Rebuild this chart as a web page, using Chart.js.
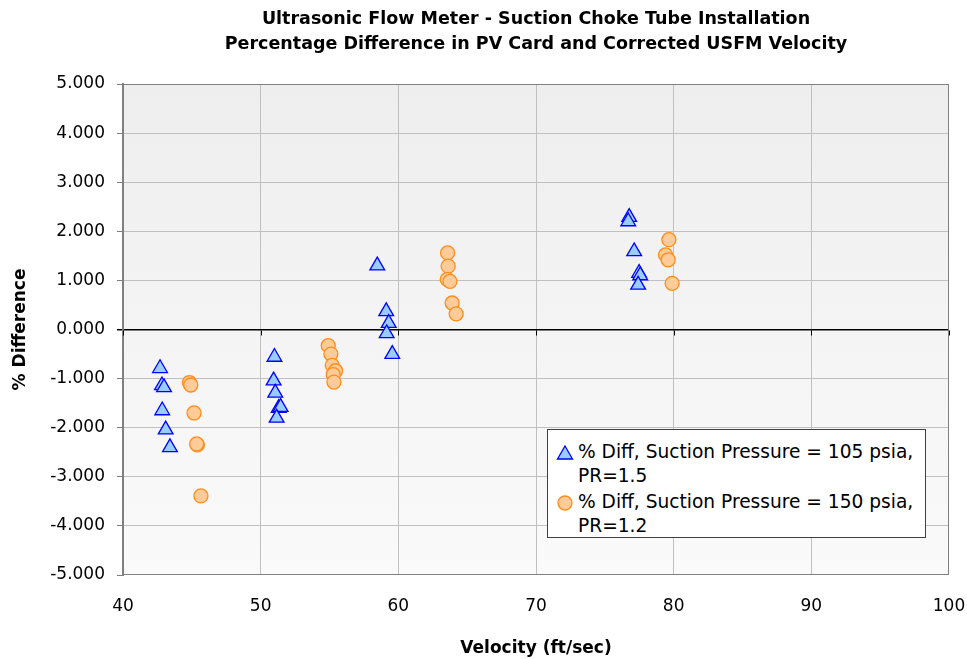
<!DOCTYPE html>
<html>
<head>
<meta charset="utf-8">
<title>Ultrasonic Flow Meter - Suction Choke Tube Installation</title>
<script src="https://cdn.jsdelivr.net/npm/chart.js@4.4.1/dist/chart.umd.min.js"></script>
<style>
  html, body { margin: 0; padding: 0; background: #fff; }
  .wrap { position: relative; width: 967px; height: 659px; }
  .legend {
    position: absolute; left: 547px; top: 429px; width: 379px; height: 109px;
    background: #fff; border: 1px solid #404040; box-sizing: border-box;
    font: 18.6px "DejaVu Sans", Arial, sans-serif; color: #000;
    padding: 10px 0 0 8px;
  }
  .legend .item { display: flex; align-items: flex-start; line-height: 24px; margin-bottom: 2px; }
  .legend svg { flex: none; margin: 5px 4px 0 0; }
</style>
</head>
<body>
<div class="wrap">
  <canvas id="diffChart" width="967" height="659"></canvas>
  <div class="legend">
    <div class="item">
      <svg width="18" height="16"><polygon points="9,1 16.5,14 1.5,14" fill="#99ccff" stroke="#0000ff" stroke-width="1.3"/></svg>
      <span>% Diff, Suction Pressure = 105 psia,<br>PR=1.5</span>
    </div>
    <div class="item">
      <svg width="18" height="16"><circle cx="9" cy="8" r="7" fill="#ffcc99" stroke="#ff8c1a" stroke-width="1.3"/></svg>
      <span>% Diff, Suction Pressure = 150 psia,<br>PR=1.2</span>
    </div>
  </div>
</div>
<script>
const titleLines = [
  "Ultrasonic Flow Meter - Suction Choke Tube Installation",
  "Percentage Difference in PV Card and Corrected USFM Velocity"
];

// 105 psia, PR=1.5
const velocity105 = [42.69, 42.83, 42.98, 42.85, 43.10, 43.41,
  51.00, 50.94, 51.06, 51.31, 51.45, 51.16,
  58.47, 59.12, 59.30, 59.15, 59.56,
  76.77, 76.70, 77.13, 77.49, 77.57, 77.42];
const diff105 = [-0.79, -1.14, -1.18, -1.65, -2.04, -2.40,
  -0.56, -1.04, -1.29, -1.60, -1.58, -1.80,
  1.30, 0.37, 0.13, -0.08, -0.50,
  2.29, 2.20, 1.59, 1.15, 1.10, 0.91];

// 150 psia, PR=1.2
const velocity150 = [44.82, 44.92, 45.16, 45.40, 45.35, 45.66,
  54.91, 55.10, 55.20, 55.44, 55.27, 55.32,
  63.58, 63.62, 63.55, 63.75, 63.91, 64.20,
  79.65, 79.41, 79.60, 79.89];
const diff150 = [-1.08, -1.13, -1.70, -2.35, -2.33, -3.39,
  -0.33, -0.50, -0.73, -0.84, -0.92, -1.07,
  1.56, 1.29, 1.02, 0.98, 0.54, 0.32,
  1.83, 1.52, 1.42, 0.94];

const xTicks = [40, 50, 60, 70, 80, 90, 100];
const yTicks = [-5, -4, -3, -2, -1, 0, 1, 2, 3, 4, 5];

const fontFamily = '"DejaVu Sans", Arial, sans-serif';

function toPoints(xs, ys) {
  return xs.map((x, i) => ({ x: x, y: ys[i] }));
}

const plotFrame = {
  id: "plotFrame",
  beforeDraw(chart) {
    const { ctx, chartArea: a } = chart;
    const grad = ctx.createLinearGradient(0, a.top, 0, a.bottom);
    grad.addColorStop(0, "#eeeeee");
    grad.addColorStop(1, "#fafafa");
    ctx.save();
    ctx.fillStyle = grad;
    ctx.fillRect(a.left, a.top, a.right - a.left, a.bottom - a.top);
    ctx.restore();
  },
  beforeDatasetsDraw(chart) {
    const { ctx, chartArea: a, scales } = chart;
    const y0 = Math.round(scales.y.getPixelForValue(0)) + 0.5;
    ctx.save();
    ctx.strokeStyle = "#808080";
    ctx.lineWidth = 1;
    ctx.strokeRect(a.left + 0.5, a.top + 0.5, a.right - a.left - 1, a.bottom - a.top - 1);
    ctx.strokeStyle = "#000";
    ctx.beginPath();
    xTicks.forEach((v) => {
      const px = Math.round(scales.x.getPixelForValue(v)) + 0.5;
      ctx.moveTo(px, y0);
      ctx.lineTo(px, y0 + 5);
    });
    ctx.stroke();
    ctx.restore();
  }
};

const titlePlugin = {
  id: "twoLineTitle",
  afterDraw(chart) {
    const { ctx, chartArea: a } = chart;
    const cx = (a.left + a.right) / 2;
    ctx.save();
    ctx.font = "bold 17.5px " + fontFamily;
    ctx.fillStyle = "#000";
    ctx.textAlign = "center";
    ctx.textBaseline = "middle";
    ctx.fillText(titleLines[0], cx, 19);
    ctx.fillText(titleLines[1], cx, 44);
    ctx.restore();
  }
};

const triangleSet = {
  label: "% Diff, Suction Pressure = 105 psia, PR=1.5",
  data: toPoints(velocity105, diff105),
  pointStyle: "triangle",
  pointRadius: 8.5,
  pointHoverRadius: 8.5,
  backgroundColor: "#99ccff",
  borderColor: "#0000ff",
  pointBorderWidth: 1.3,
  showLine: false
};

const circleSet = {
  label: "% Diff, Suction Pressure = 150 psia, PR=1.2",
  data: toPoints(velocity150, diff150),
  pointStyle: "circle",
  pointRadius: 7,
  pointHoverRadius: 7,
  backgroundColor: "#ffcc99",
  borderColor: "#ff8c1a",
  pointBorderWidth: 1.3,
  showLine: false
};

new Chart(document.getElementById("diffChart"), {
  type: "scatter",
  data: { datasets: [triangleSet, circleSet] },
  plugins: [plotFrame, titlePlugin],
  options: {
    responsive: false,
    animation: false,
    layout: { padding: { top: 84, right: 18, bottom: 0, left: 0 } },
    plugins: {
      legend: { display: false },
      tooltip: { enabled: false },
      title: { display: false }
    },
    scales: {
      x: {
        type: "linear",
        min: 40,
        max: 100,
        afterBuildTicks(scale) { scale.ticks = xTicks.map((v) => ({ value: v })); },
        afterFit(scale) {
          scale.height = 84;
          scale.paddingRight = 0;
          scale.paddingLeft = 0;
        },
        ticks: { color: "#000", font: { family: fontFamily, size: 17 }, padding: 15, maxRotation: 0 },
        grid: {
          color: (c) => (c.tick && (c.tick.value === 40 || c.tick.value === 100) ? "rgba(0,0,0,0)" : "#c0c0c0"),
          tickColor: "rgba(0,0,0,0)",
          tickLength: 6
        },
        border: { display: false },
        title: {
          display: true,
          text: "Velocity (ft/sec)",
          color: "#000",
          font: { family: fontFamily, size: 17, weight: "bold" },
          padding: { top: 0, bottom: 0 }
        }
      },
      y: {
        type: "linear",
        min: -5,
        max: 5,
        afterBuildTicks(scale) { scale.ticks = yTicks.map((v) => ({ value: v })); },
        afterFit(scale) { scale.width = 123; },
        ticks: {
          color: "#000",
          font: { family: fontFamily, size: 17 },
          padding: 12,
          callback: (v) => Number(v).toFixed(3)
        },
        grid: {
          color: (c) => {
            if (!c.tick) return "#c0c0c0";
            if (c.tick.value === 0) return "#000";
            if (c.tick.value === 5 || c.tick.value === -5) return "rgba(0,0,0,0)";
            return "#c0c0c0";
          },
          tickColor: (c) => (c.tick && c.tick.value === 0 ? "#000" : "#808080"),
          lineWidth: (c) => (c.tick && c.tick.value === 0 ? 1.5 : 1),
          tickLength: 6
        },
        border: { display: true, color: "#808080", width: 2 },
        title: {
          display: true,
          text: "% Difference",
          color: "#000",
          font: { family: fontFamily, size: 17, weight: "bold" },
          padding: { top: 10, bottom: 0 }
        }
      }
    }
  }
});
</script>
</body>
</html>
